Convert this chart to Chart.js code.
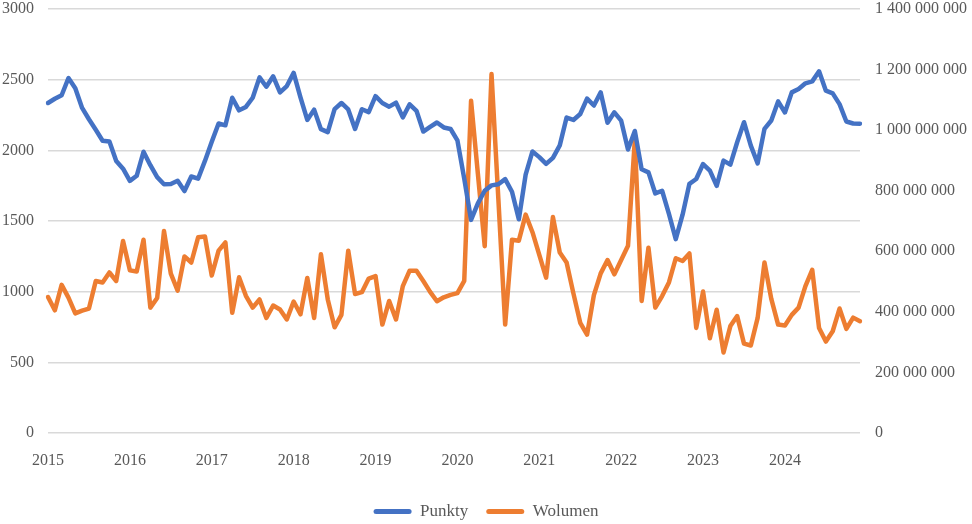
<!DOCTYPE html>
<html>
<head>
<meta charset="utf-8">
<script src="https://cdn.jsdelivr.net/npm/chart.js@4.4.0/dist/chart.umd.js"></script>
<style>
  html, body { margin: 0; padding: 0; background: #fff; }
  #wrap { width: 972px; height: 524px; }
</style>
</head>
<body>
<div id="wrap"><canvas id="c" width="972" height="524"></canvas></div>
<script>
// miesiące 2015-01 .. 2024-12
const years = [2015, 2016, 2017, 2018, 2019, 2020, 2021, 2022, 2023, 2024];
const months = ['01', '02', '03', '04', '05', '06', '07', '08', '09', '10', '11', '12'];
const labels = years.flatMap((y) => months.map((m) => `${y}-${m}`));

const punkty = [
    2335, 2365, 2390, 2512, 2440, 2300, 2220, 2145, 2068, 2062, 1925, 1870,
    1784, 1820, 1990, 1895, 1810, 1760, 1762, 1785, 1712, 1815, 1800, 1925,
    2060, 2190, 2177, 2372, 2283, 2307, 2372, 2516, 2450, 2524, 2410, 2455,
    2548, 2375, 2215, 2288, 2150, 2129, 2291, 2335, 2289, 2151, 2291, 2270,
    2383, 2335, 2309, 2337, 2233, 2326, 2280, 2133, 2166, 2197, 2162, 2151,
    2070, 1800, 1508, 1625, 1714, 1752, 1760, 1796, 1707, 1512, 1828, 1992,
    1952, 1904, 1947, 2035, 2232, 2215, 2257, 2366, 2317, 2410, 2195, 2269,
    2210, 2006, 2137, 1866, 1844, 1695, 1714, 1550, 1372, 1545, 1763, 1797,
    1903, 1856, 1749, 1927, 1899, 2057, 2199, 2033, 1908, 2152, 2211, 2346,
    2268, 2410, 2434, 2474, 2488, 2559, 2422, 2403, 2327, 2204, 2190, 2188
];

// w milionach
const wolumenMln = [
    449, 405, 489, 447, 395, 404, 411, 502, 497, 530, 502, 634,
    537, 533, 638, 414, 446, 667, 526, 470, 583, 563, 646, 649,
    520, 602, 629, 397, 514, 453, 414, 441, 380, 421, 408, 375,
    434, 392, 512, 380, 590, 441, 349, 390, 602, 459, 465, 510,
    518, 358, 436, 375, 485, 536, 536, 502, 466, 435, 448, 456,
    462, 502, 1097, 856, 617, 1185, 773, 358, 638, 635, 721, 663,
    588, 513, 713, 596, 563, 461, 364, 325, 455, 527, 571, 524,
    571, 618, 968, 436, 612, 414, 452, 497, 577, 568, 593, 347,
    467, 313, 407, 266, 353, 386, 295, 289, 380, 563, 443, 358,
    355, 390, 414, 485, 539, 347, 302, 336, 411, 344, 381, 369
];
const wolumen = wolumenMln.map((v) => v * 1e6);

const BLUE = '#4472C4', ORANGE = '#ED7D31', TXT = '#595959';
const FONT = "'Liberation Serif', 'Times New Roman', serif";

const spaced = (v) => String(Math.round(v)).replace(/\B(?=(\d{3})+(?!\d))/g, ' ');
const noPad = (s, w) => { s.width = w; s.paddingTop = 0; s.paddingBottom = 0; };

new Chart(document.getElementById('c'), {
    type: 'line',
    data: {
        labels,
        datasets: [
            { label: 'Punkty', data: punkty, yAxisID: 'y', borderColor: BLUE, backgroundColor: BLUE,
              borderWidth: 4.5, pointRadius: 0, tension: 0, borderJoinStyle: 'round', borderCapStyle: 'round' },
            { label: 'Wolumen', data: wolumen, yAxisID: 'y1', borderColor: ORANGE, backgroundColor: ORANGE,
              borderWidth: 4.5, pointRadius: 0, tension: 0, borderJoinStyle: 'round', borderCapStyle: 'round' },
        ],
    },
    options: {
        responsive: false,
        animation: false,
        layout: { padding: { top: 9, bottom: -6 } },
        plugins: {
            tooltip: { enabled: false },
            legend: {
                position: 'bottom',
                labels: {
                    color: TXT, font: { family: FONT, size: 17 }, boxWidth: 38, boxHeight: 5, padding: 18,
                    useBorderRadius: true, borderRadius: 2.5,
                    generateLabels: (chart) => chart.data.datasets.map((d, i) => ({
                        text: d.label, fillStyle: d.borderColor, strokeStyle: d.borderColor,
                        lineWidth: 0, datasetIndex: i, fontColor: TXT, borderRadius: 2.5,
                    })),
                },
            },
        },
        scales: {
            x: {
                offset: false,
                grid: { display: false },
                border: { display: false },
                ticks: {
                    autoSkip: false, maxRotation: 0, color: TXT, padding: 10,
                    font: { family: FONT, size: 16 },
                    callback: (v, i) => (i % 12 === 0 ? labels[i].slice(0, 4) : ''),
                },
                afterFit: (s) => { s.height = 52; },
            },
            y: {
                position: 'left', min: 0, max: 3000,
                ticks: { stepSize: 500, color: TXT, padding: 14, font: { family: FONT, size: 16 },
                         callback: (v) => String(v) },
                grid: { color: '#d9d9d9', lineWidth: 1.6, drawTicks: false },
                border: { display: false },
                afterFit: (s) => noPad(s, 48),
            },
            y1: {
                position: 'right', min: 0, max: 1.4e9,
                ticks: { stepSize: 2e8, color: TXT, padding: 15, font: { family: FONT, size: 16 },
                         callback: (v) => spaced(v) },
                grid: { display: false, drawTicks: false },
                border: { display: false },
                afterFit: (s) => noPad(s, 112),
            },
        },
    },
});
</script>
</body>
</html>
